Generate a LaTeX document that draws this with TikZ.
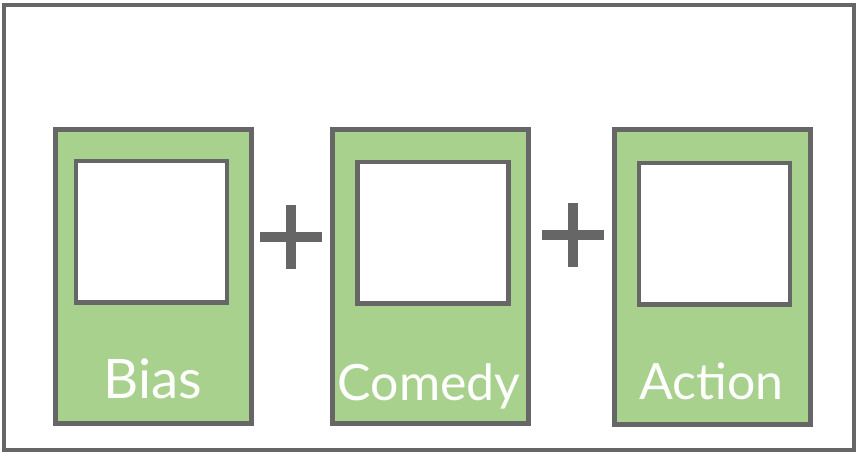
\documentclass[tikz,border=0pt]{standalone}
\usepackage{fontspec}
\setmainfont{Lato}
\definecolor{edge}{HTML}{666666}
\definecolor{leaf}{HTML}{A9D18E}
\begin{document}
\begin{tikzpicture}[x=1pt,y=-1pt,
  frame/.style={draw=edge, line width=4pt, inner sep=0pt, minimum width=850pt, minimum height=444.5pt},
  card/.style={draw=edge, line width=5pt, fill=leaf, inner sep=0pt, minimum width=196pt, minimum height=294.5pt},
  slot/.style={draw=edge, line width=4.5pt, fill=white, inner sep=0pt, minimum width=151pt, minimum height=141.5pt},
  caption/.style={text=white, font=\fontsize{50}{60}\selectfont, anchor=base, inner sep=0pt},
  bigcaption/.style={caption, font=\fontsize{54.5}{64}\selectfont},
  plusbar/.style={fill=edge}]
\useasboundingbox (0,0) rectangle (857,453);
\node[frame] (outer) at (428.5,227.25) {};
\node[card] (c1) at (153,276.25) {};
\node[card] (c2) at (430.25,276.25) {};
\node[card] (c3) at (712,277) {};
\node[slot] (s1) at (151.4,231.8) {};
\node[slot] (s2) at (432.9,232.9) {};
\node[slot] (s3) at (714.5,233.5) {};
\node[bigcaption] (t1) at (153,398) {Bias};
\node[caption] (t2) at (429,400) {Comedy};
\node[caption] (t3) at (711.5,399) {Action};
\coordinate (p1) at (291,236.7);
\coordinate (p2) at (573,235);
\fill[plusbar] (p1) ++(-31,-5) rectangle ++(62,10);
\fill[plusbar] (p1) ++(-5,-32) rectangle ++(10,64);
\fill[plusbar] (p2) ++(-31,-5) rectangle ++(62,10);
\fill[plusbar] (p2) ++(-5,-32) rectangle ++(10,64);
\end{tikzpicture}
\end{document}
